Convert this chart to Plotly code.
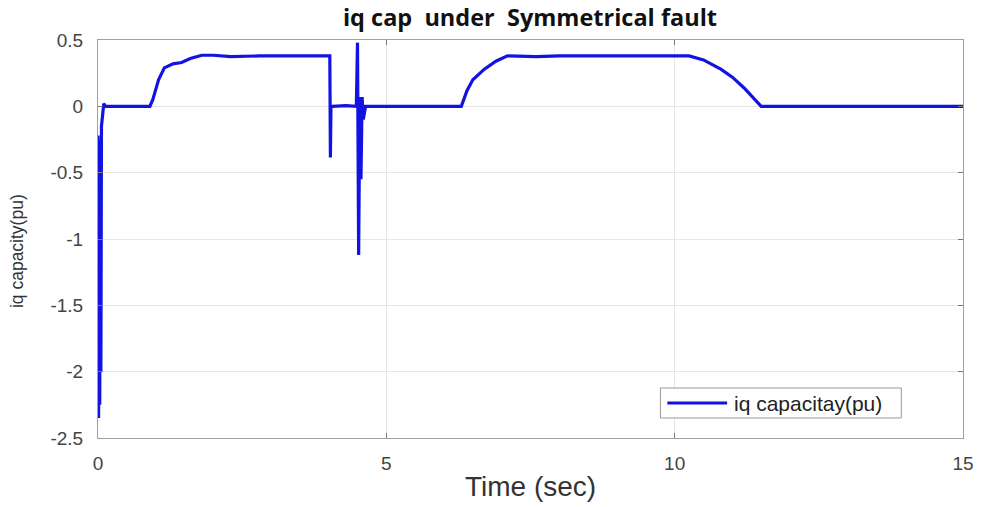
import plotly.graph_objects as go

# time (s) and iq capacity (pu)
time_s = [0.0, 0.01, 0.02, 0.03, 0.04, 0.05, 0.06, 0.08, 0.10, 0.13,
          0.90, 0.95, 1.05, 1.15, 1.30, 1.45, 1.60, 1.80, 2.00, 2.30, 2.80, 3.50, 4.02,
          4.03, 4.04, 4.06, 4.30, 4.48, 4.50, 4.52, 4.54, 4.56, 4.58, 4.60, 4.64,
          6.30, 6.40, 6.50, 6.70, 6.90, 7.10, 7.60, 8.00, 9.00, 10.25,
          10.50, 10.80, 11.00, 11.20, 11.50, 15.0]
iq_cap = [-0.22, -2.35, -0.30, -2.25, -0.25, -2.0, -0.15, -0.05, 0.02, 0.0,
          0.0, 0.05, 0.20, 0.29, 0.32, 0.33, 0.36, 0.385, 0.385, 0.375, 0.38, 0.38, 0.38,
          -0.385, 0.0, 0.0, 0.005, 0.0, 0.48, -1.12, 0.07, -0.55, 0.07, -0.1, 0.0,
          0.0, 0.12, 0.20, 0.28, 0.34, 0.38, 0.375, 0.38, 0.38, 0.38,
          0.35, 0.28, 0.22, 0.14, 0.0, 0.0]

x_ticks = [0, 5, 10, 15]
y_ticks = [0.5, 0, -0.5, -1, -1.5, -2, -2.5]
y_tick_labels = ["0.5", "0", "-0.5", "-1", "-1.5", "-2", "-2.5"]
series_name = "iq capacitay(pu)"
line_color = "#1212e2"

fig = go.Figure()
fig.add_trace(go.Scatter(x=time_s, y=iq_cap, mode="lines", name=series_name,
                         showlegend=False, line=dict(color=line_color, width=3.2)))

axis_common = dict(showline=True, linecolor="#a0a0a0", linewidth=1, mirror="ticks",
                   showgrid=True, gridcolor="#e6e6e6", gridwidth=1, zeroline=False,
                   ticks="inside", ticklen=5, tickcolor="#777777",
                   tickfont=dict(family="Liberation Sans, Arial", size=19, color="#444444"))

# legend box drawn in paper coordinates
leg_x0, leg_x1, leg_y0, leg_y1 = 0.6502, 0.9287, 0.0503, 0.1256
leg_line_x0, leg_line_x1, leg_line_y = 0.6582, 0.7273, 0.0879

fig.update_layout(
    width=986, height=507,
    margin=dict(l=98, r=19, t=40, b=69),
    paper_bgcolor="white", plot_bgcolor="white",
    title=dict(text="<b>iq cap  under  Symmetrical fault</b>", x=0.5375, xanchor="center",
               y=0.964, yanchor="middle",
               font=dict(family="Open Sans, Liberation Sans", size=23.5, color="#111111")),
    xaxis=dict(range=[0, 15], tickvals=x_ticks, ticklabelstandoff=8, **axis_common),
    yaxis=dict(range=[-2.5, 0.5], tickvals=y_ticks, ticktext=y_tick_labels,
               ticklabelstandoff=10, **axis_common),
    showlegend=False,
    shapes=[
        dict(type="rect", xref="paper", yref="paper", x0=leg_x0, x1=leg_x1, y0=leg_y0, y1=leg_y1,
             line=dict(color="#999999", width=1), fillcolor="white", layer="above"),
        dict(type="line", xref="paper", yref="paper", x0=leg_line_x0, x1=leg_line_x1,
             y0=leg_line_y, y1=leg_line_y, line=dict(color=line_color, width=3.2), layer="above"),
    ],
    annotations=[
        dict(text=series_name, xref="paper", yref="paper", x=0.733, y=leg_line_y,
             xanchor="left", yanchor="middle", showarrow=False,
             font=dict(family="Liberation Sans, Arial", size=21, color="#222222")),
        dict(text="Time (sec)", xref="paper", yref="paper", x=0.5, y=-0.122,
             xanchor="center", yanchor="middle", showarrow=False,
             font=dict(family="Liberation Sans, Arial", size=28, color="#333333")),
        dict(text="iq capacity(pu)", xref="paper", yref="paper", x=-0.0935, y=0.47,
             xanchor="center", yanchor="middle", showarrow=False, textangle=-90,
             font=dict(family="Liberation Sans, Arial", size=17.5, color="#333333")),
    ],
)

fig.write_html("out.html")
